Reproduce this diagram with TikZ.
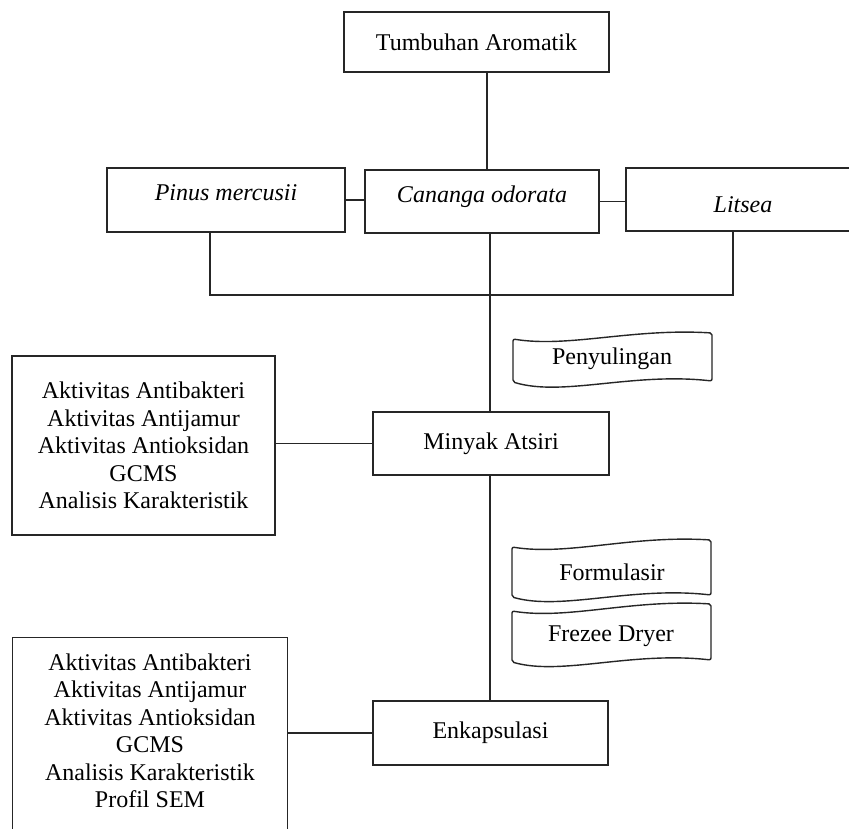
\documentclass[tikz,border=0pt]{standalone}
\usepackage{fontspec}
\setmainfont{Liberation Serif}
\begin{document}
\begin{tikzpicture}[x=1pt,y=-1pt,
  box/.style={draw=black!85, line width=1.4pt, inner sep=0pt, align=center,
    font=\fontsize{24}{27.5}\selectfont},
  link/.style={draw=black!85, line width=1.4pt},
  tapeline/.style={draw=black!85, line width=1.4pt, rounded corners=2pt},
  txt/.style={inner sep=0pt, align=center, font=\fontsize{24}{27.5}\selectfont}]
\clip (0,0) rectangle (849,829);
\fill[white] (0,0) rectangle (849,829);

% main boxes
\node[box, minimum width=265pt, minimum height=60pt] (tum) at (476.5,42) {Tumbuhan Aromatik};
\node[box, minimum width=238pt, minimum height=64pt, text depth=14pt] (pin) at (226,200) {\itshape Pinus mercusii};
\node[box, minimum width=234pt, minimum height=63pt, text depth=14pt] (can) at (482,201.5) {\itshape Cananga odorata};
\node[box, minimum width=234pt, minimum height=63pt, text height=27pt] (lit) at (743,199.5) {\itshape Litsea};
\node[box, minimum width=236pt, minimum height=63pt] (min) at (491,443.5) {Minyak Atsiri};
\node[box, minimum width=235pt, minimum height=64pt] (enk) at (490.5,733) {Enkapsulasi};
\node[box, minimum width=263pt, minimum height=179pt] (res1) at (143.5,445.5)
  {Aktivitas Antibakteri\\Aktivitas Antijamur\\Aktivitas Antioksidan\\GCMS\\Analisis Karakteristik};
\node[box, minimum width=275pt, minimum height=220pt, anchor=north west] (res2) at (12,637) {};
\node[txt] (res2txt) at (150,731)
  {Aktivitas Antibakteri\\Aktivitas Antijamur\\Aktivitas Antioksidan\\GCMS\\Analisis Karakteristik\\Profil SEM};

% process labels (punched tape shapes)
\node[txt] (pen) at (612,359) {Penyulingan};
\node[txt] (for) at (612,572) {Formulasir};
\node[txt] (fre) at (611,636) {Frezee Dryer};

\draw[tapeline] (513,339) .. controls ({513+0.28*199},348) and ({513+0.6*199},328) .. (712,333)
  -- (712,381) .. controls ({712-0.4*199},372) and ({513+0.25*199},397) .. (513,382) -- cycle;
\draw[tapeline] (512,547) .. controls ({512+0.28*199},556) and ({512+0.6*199},535) .. (711,540)
  -- (711,595) .. controls ({711-0.4*199},586) and ({512+0.25*199},611) .. (512,597) -- cycle;
\draw[tapeline] (512,611) .. controls ({512+0.28*199},620) and ({512+0.6*199},599) .. (711,604)
  -- (711,660) .. controls ({711-0.4*199},651) and ({512+0.25*199},676) .. (512,662) -- cycle;

% connectors
\coordinate (spa) at (487,0);
\coordinate (spb) at (490,0);
\coordinate (pinv) at (210,295);
\coordinate (litv) at (733,295);
\draw[link] (tum.south -| spa) -- (can.north -| spa);
\draw[link] (pin.east) -- (pin.east -| can.west);
\draw[link] (can.east) -- (can.east -| lit.west);
\draw[link] (pinv |- pin.south) -- (pinv) -- (litv) -- (litv |- lit.south);
\draw[link] (can.south -| spb) -- (min.north -| spb);
\draw[link] (min.south -| spb) -- (enk.north -| spb);
\draw[link] (res1.east |- min.west) -- (min.west);
\draw[link] (enk.west -| res2.east) -- (enk.west);
\end{tikzpicture}
\end{document}
